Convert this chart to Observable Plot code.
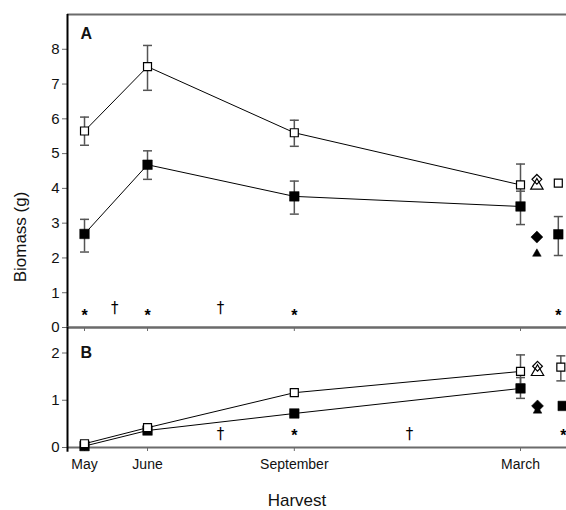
<!DOCTYPE html>
<html>
<head>
<meta charset="utf-8">
<script src="https://cdn.jsdelivr.net/npm/d3@7"></script>
<script src="https://cdn.jsdelivr.net/npm/@observablehq/plot@0.6"></script>
<style>
  body { margin: 0; background: white; font-family: "Liberation Sans", Arial, sans-serif; }
  #wrap { position: relative; width: 566px; height: 510px; overflow: hidden; }
  #wrap > div.panel { position: absolute; left: 0; }
  .lbl { position: absolute; font-size: 17px; color: #111; white-space: nowrap; line-height: 1; }
</style>
</head>
<body>
<div id="wrap">
  <div class="panel" id="pa" style="top:0px"></div>
  <div class="panel" id="pb" style="top:327px"></div>
  <div class="lbl" id="ylab" style="left:20px; top:237px; transform: translate(-50%,-50%) rotate(-90deg);">Biomass (g)</div>
  <div class="lbl" id="xlab" style="left:297px; top:500px; transform: translate(-50%,-50%);">Harvest</div>
</div>
<script>
// ---------- data ----------
const harvests = ["May", "June", "September", "March"];
const harvestPos = [0, 1, 3.33, 6.92];
const extraKinds = ["diamond", "triangle", "square"];

// Panel A (biomass, g)
const aOpen = [5.65, 7.50, 5.60, 4.10];
const aOpenLow = [5.24, 6.82, 5.21, 3.55];
const aOpenHigh = [6.05, 8.11, 5.96, 4.70];
const aFilled = [2.69, 4.68, 3.77, 3.48];
const aFilledLow = [2.17, 4.26, 3.26, 2.96];
const aFilledHigh = [3.11, 5.08, 4.21, 3.92];
const aExtraX = [7.18, 7.18, 7.52];
const aExtraOpen = [4.26, 4.08, 4.15];
const aExtraFilled = [2.60, 2.12, 2.68];
const aExtraFilledLow = [null, null, 2.07];
const aExtraFilledHigh = [null, null, 3.19];
const aStarX = [0, 1, 3.33, 7.52];
const aDaggerX = [0.48, 2.16];

// Panel B
const bOpen = [0.08, 0.42, 1.16, 1.61];
const bOpenLow = [0.05, 0.38, 1.10, 1.34];
const bOpenHigh = [0.11, 0.46, 1.22, 1.96];
const bFilled = [0.03, 0.36, 0.72, 1.25];
const bFilledLow = [0.01, 0.33, 0.68, 1.04];
const bFilledHigh = [0.05, 0.39, 0.76, 1.48];
const bExtraOpenX = [7.19, 7.19, 7.56];
const bExtraFilledX = [7.19, 7.19, 7.59];
const bExtraOpen = [1.72, 1.60, 1.70];
const bExtraOpenLow = [null, null, 1.41];
const bExtraOpenHigh = [null, null, 1.94];
const bExtraFilled = [0.88, 0.78, 0.88];
const bStarX = [3.33, 7.60];
const bDaggerX = [2.16, 5.16];

// ---------- helpers ----------
const symOf = {diamond: "diamond2", triangle: "triangle", square: "square"};
const capSym = {draw(ctx) { ctx.moveTo(-4.5, 0); ctx.lineTo(4.5, 0); }};
const errColor = "#555";
const axisGray = "#6b6b6b";
const font = "Liberation Sans, Arial, sans-serif";

function series(xs, mean, low, high) {
  return xs.map((x, i) => ({x, y: mean[i], lo: low ? low[i] : null, hi: high ? high[i] : null}));
}

function errMarks(data) {
  const d = data.filter(e => e.lo != null && e.hi != null);
  return [
    Plot.ruleX(d, {x: "x", y1: "lo", y2: "hi", stroke: errColor, strokeWidth: 1.5}),
    Plot.dot(d, {x: "x", y: "lo", symbol: capSym, stroke: errColor, strokeWidth: 1.5}),
    Plot.dot(d, {x: "x", y: "hi", symbol: capSym, stroke: errColor, strokeWidth: 1.5})
  ];
}

const xDomain = [-0.27, 7.65];
const openSizes = {diamond: 4.4, triangle: 4.6, square: 4.5};
const filledSizes = {diamond: 5.4, triangle: 3.2, square: 5.4};

function panel(opts) {
  const {yMax, yTicks, height, mTop, mBottom, open, filled, exOpen, exFilled,
         stars, starY, daggers, daggerY, letter, letterDy, bottomAxis, leftExtend} = opts;
  return Plot.plot({
    width: 566, height, marginLeft: 67, marginRight: 0, marginTop: mTop, marginBottom: mBottom,
    style: {background: "transparent", overflow: "visible", fontFamily: font},
    x: {domain: xDomain},
    y: {domain: [0, yMax]},
    marks: [
      Plot.ruleY([yMax], {stroke: axisGray, strokeWidth: 2}),
      Plot.ruleY([0], {stroke: axisGray, strokeWidth: 2}),
      Plot.axisY({ticks: yTicks, tickFormat: d => String(d), tickSize: 5, tickPadding: 3, fontSize: 15, stroke: axisGray, fill: "#111", label: null}),
      bottomAxis
        ? Plot.axisX({ticks: harvestPos, tickFormat: d => harvests[harvestPos.indexOf(d)], tickSize: 4, tickPadding: 8, fontSize: 14, stroke: axisGray, fill: "#111", label: null})
        : Plot.axisX({ticks: harvestPos, tickFormat: () => "", tickSize: 4, stroke: axisGray, label: null}),
      Plot.ruleX([xDomain[0]], {y1: leftExtend, y2: yMax, stroke: "black", strokeWidth: 2}),
      Plot.text([letter], {frameAnchor: "top-left", dx: 13, dy: letterDy, fontWeight: "bold", fontSize: 16, lineAnchor: "top", fill: "#111"}),
      Plot.line(open, {x: "x", y: "y", stroke: "black", strokeWidth: 1}),
      Plot.line(filled, {x: "x", y: "y", stroke: "black", strokeWidth: 1}),
      ...errMarks(open),
      ...errMarks(filled),
      ...errMarks(exOpen),
      ...errMarks(exFilled),
      Plot.dot(filled, {x: "x", y: "y", symbol: "square", r: 5.4, fill: "black", stroke: "black", strokeWidth: 0.5}),
      Plot.dot(open, {x: "x", y: "y", symbol: "square", r: 4.5, fill: "white", stroke: "black", strokeWidth: 1.2}),
      ...extraKinds.map(k => Plot.dot(exFilled.filter(d => d.k === k), {x: "x", y: "y", symbol: symOf[k], r: filledSizes[k], fill: "black", stroke: "black", strokeWidth: 0.5})),
      ...["triangle", "diamond", "square"].map(k => Plot.dot(exOpen.filter(d => d.k === k), {x: "x", y: "y", symbol: symOf[k], r: openSizes[k], fill: k === "diamond" ? "none" : "white", stroke: "black", strokeWidth: 1.2})),
      Plot.text(stars, {x: d => d, y: () => starY, text: () => "*", fontSize: 16, fontWeight: "bold", fill: "black"}),
      Plot.text(daggers, {x: d => d, y: () => daggerY, text: () => "\u2020", fontSize: 15, fontFamily: "DejaVu Sans", fill: "black"})
    ]
  });
}

const aOpenS = series(harvestPos, aOpen, aOpenLow, aOpenHigh);
const aFilledS = series(harvestPos, aFilled, aFilledLow, aFilledHigh);
const aExOpen = extraKinds.map((k, i) => ({x: aExtraX[i], y: aExtraOpen[i], lo: null, hi: null, k}));
const aExFilled = extraKinds.map((k, i) => ({x: aExtraX[i], y: aExtraFilled[i], lo: aExtraFilledLow[i], hi: aExtraFilledHigh[i], k}));

const bOpenS = series(harvestPos, bOpen, bOpenLow, bOpenHigh);
const bFilledS = series(harvestPos, bFilled, bFilledLow, bFilledHigh);
const bExOpen = extraKinds.map((k, i) => ({x: bExtraOpenX[i], y: bExtraOpen[i], lo: bExtraOpenLow[i], hi: bExtraOpenHigh[i], k}));
const bExFilled = extraKinds.map((k, i) => ({x: bExtraFilledX[i], y: bExtraFilled[i], lo: null, hi: null, k}));

document.getElementById("pa").append(panel({
  yMax: 9, yTicks: [0, 1, 2, 3, 4, 5, 6, 7, 8], height: 330, mTop: 14, mBottom: 3,
  open: aOpenS, filled: aFilledS, exOpen: aExOpen, exFilled: aExFilled,
  stars: aStarX, starY: 0.34, daggers: aDaggerX, daggerY: 0.56,
  letter: "A", letterDy: 13, bottomAxis: false, leftExtend: 0
}));

document.getElementById("pb").append(panel({
  yMax: 2.54, yTicks: [0, 1, 2], height: 183, mTop: 0, mBottom: 63,
  open: bOpenS, filled: bFilledS, exOpen: bExOpen, exFilled: bExFilled,
  stars: bStarX, starY: 0.24, daggers: bDaggerX, daggerY: 0.29,
  letter: "B", letterDy: 19, bottomAxis: true, leftExtend: -0.1
}));
</script>
</body>
</html>
